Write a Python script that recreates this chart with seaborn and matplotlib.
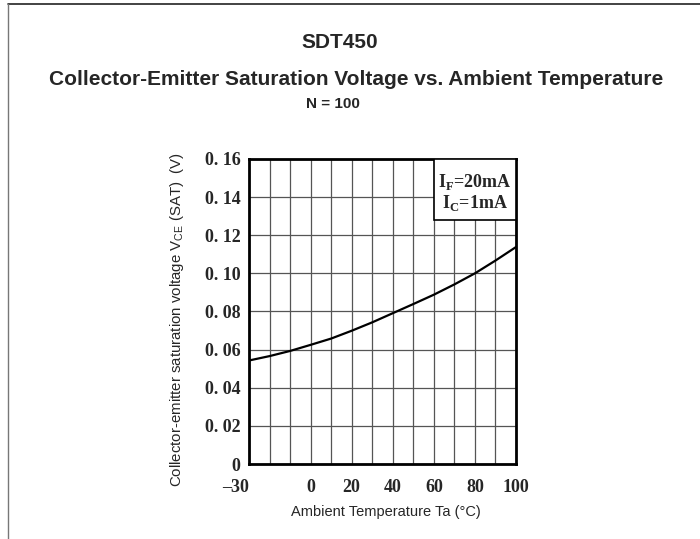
import numpy as np
import pandas as pd
import matplotlib
matplotlib.use("Agg")
import matplotlib.pyplot as plt
from matplotlib.lines import Line2D
from matplotlib.patches import Rectangle
import seaborn as sns

# curve
temps = [-30, -20, -10, 0, 10, 20, 30, 40, 50, 60, 70, 80, 90, 100]
vce_sat = [0.0543, 0.0566, 0.0593, 0.0625, 0.0658, 0.0699, 0.0743,
           0.0791, 0.0839, 0.0888, 0.0942, 0.1000, 0.1067, 0.1138]

x_ticks = [-30, 0, 20, 40, 60, 80, 100]
x_ticklabels = ["\u201330", "0", "20", "40", "60", "80", "100"]
y_ticks = [0, 0.02, 0.04, 0.06, 0.08, 0.10, 0.12, 0.14, 0.16]
y_ticklabels = ["0", "0. 02", "0. 04", "0. 06", "0. 08", "0. 10", "0. 12", "0. 14", "0. 16"]
x_grid = list(range(-30, 101, 10))

df = pd.DataFrame({"Ta": temps, "Vce": vce_sat})

sns.set_theme(style="white")
plt.rcParams["font.family"] = ["Liberation Sans", "DejaVu Sans"]
plt.rcParams["mathtext.fontset"] = "custom"
plt.rcParams["mathtext.rm"] = "Liberation Serif:bold"
plt.rcParams["mathtext.sf"] = "Liberation Sans"

fig = plt.figure(figsize=(7, 5.39), dpi=100)
ax = fig.add_axes([0.3557, 0.1391, 0.3814, 0.566])

sns.lineplot(data=df, x="Ta", y="Vce", ax=ax, color="black", linewidth=1.6)

ax.set_xlim(-30, 100)
ax.set_ylim(0, 0.16)

# grid
for gx in x_grid:
    ax.axvline(gx, color="#555555", linewidth=0.9, zorder=0)
for gy in y_ticks:
    ax.axhline(gy, color="#555555", linewidth=0.9, zorder=0)

for s in ax.spines.values():
    s.set_visible(True)
    s.set_color("black")
    s.set_linewidth(2)

ax.set_xticks(x_ticks)
ax.set_xticklabels(x_ticklabels)
ax.set_yticks(y_ticks)
ax.set_yticklabels(y_ticklabels)
ax.tick_params(length=0)
ax.tick_params(axis="x", pad=11)
ax.tick_params(axis="y", pad=6)
for lab in ax.get_xticklabels() + ax.get_yticklabels():
    lab.set_fontfamily("Liberation Serif")
    lab.set_fontweight("bold")
    lab.set_fontsize(13)
ax.get_xticklabels()[0].set_ha("right")

ax.set_xlabel("Ambient Temperature Ta (\u00b0C)", fontsize=10.5)
ax.xaxis.set_label_coords(0.511, -0.134)
ax.set_ylabel(r"Collector-emitter saturation voltage V$_{\mathsf{CE}}$ (SAT)  (V)",
              fontsize=10.8)
ax.yaxis.set_label_coords(-0.236, 0.472)

# condition box
ax.add_patch(Rectangle((0.693, 0.80), 0.307, 0.20, transform=ax.transAxes,
                       facecolor="white", edgecolor="black", linewidth=1.2, zorder=3))
ax.text(0.847, 0.925, r"I$_{\mathrm{F}}$=20mA", transform=ax.transAxes, ha="center",
        va="center", fontsize=13, fontfamily="Liberation Serif", fontweight="bold", zorder=4)
ax.text(0.847, 0.855, r"I$_{\mathrm{C}}$=1mA", transform=ax.transAxes, ha="center",
        va="center", fontsize=13, fontfamily="Liberation Serif", fontweight="bold", zorder=4)

fig.text(0.486, 0.9115, "SDT450", ha="center", va="baseline", fontsize=15, fontweight="bold")
fig.text(0.509, 0.8423, "Collector-Emitter Saturation Voltage vs. Ambient Temperature",
         ha="center", va="baseline", fontsize=15, fontweight="bold")
fig.text(0.475, 0.799, "N = 100", ha="center", va="baseline", fontsize=11, fontweight="bold")

# page frame
fig.add_artist(Line2D([0.0114, 1.0], [0.9926, 0.9926], color="#222222", linewidth=1.2))
fig.add_artist(Line2D([0.0114, 0.0114], [0.0, 0.9926], color="#777777", linewidth=1.0))

fig.savefig("out.png", dpi=100)
